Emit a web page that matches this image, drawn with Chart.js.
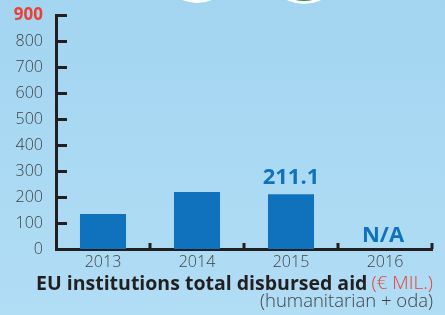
<!DOCTYPE html>
<html>
<head>
<meta charset="utf-8">
<script src="https://cdn.jsdelivr.net/npm/chart.js@4.4.1/dist/chart.umd.min.js"></script>
<style>
  html, body { margin: 0; padding: 0; }
  body { width: 445px; height: 315px; overflow: hidden;
         background: linear-gradient(#a3d5f1, #b1ddf5); }
  #wrap { position: relative; width: 445px; height: 315px; }
</style>
</head>
<body>
<div id="wrap"><canvas id="aidChart" width="445" height="315"></canvas></div>
<script>
  // data
  const years = ['2013', '2014', '2015', '2016'];
  const disbursed = [135, 219, 211.1, null];
  const valueLabels = ['', '', '211.1', 'N/A'];
  const yTicks = [0, 100, 200, 300, 400, 500, 600, 700, 800, 900];

  const titleMain = 'EU institutions total disbursed aid';
  const titleUnit = '(€ MIL.)';
  const subtitle = '(humanitarian + oda)';

  const blue = '#1072bc';
  const red = '#ea4034';
  const ink = '#231f20';
  const grey = '#3f3f42';

  const isTop = ctx => !!(ctx && ctx.tick && ctx.tick.value === 900);

  // white / green discs cut off at the top edge
  const decoPlugin = {
    id: 'deco',
    beforeDraw(chart) {
      const c = chart.ctx;
      c.save();
      c.fillStyle = '#ffffff';
      c.beginPath(); c.arc(197, -36, 39, 0, Math.PI * 2); c.fill();
      c.beginPath(); c.arc(304, -35, 39, 0, Math.PI * 2); c.fill();
      c.fillStyle = '#1a9a48';
      c.beginPath(); c.arc(304, -37, 38, 0, Math.PI * 2); c.fill();
      c.restore();
    }
  };

  // inward ticks, value labels and the two-colour title
  const extrasPlugin = {
    id: 'extras',
    afterDraw(chart) {
      const c = chart.ctx;
      const x = chart.scales.x, y = chart.scales.y;
      const area = chart.chartArea;
      c.save();
      c.strokeStyle = ink;
      c.lineWidth = 3;
      // y ticks pointing right
      yTicks.forEach(v => {
        const py = Math.round(y.getPixelForValue(v)) + 0.5;
        c.beginPath(); c.moveTo(area.left, py); c.lineTo(area.left + 11, py); c.stroke();
      });
      // x ticks pointing up, between categories
      const step = x.getPixelForValue(1) - x.getPixelForValue(0);
      for (let i = 0; i < years.length; i++) {
        const px = x.getPixelForValue(i) + step / 2;
        c.beginPath(); c.moveTo(px, area.bottom); c.lineTo(px, area.bottom - 6); c.stroke();
      }
      // value labels
      c.fillStyle = blue;
      c.font = 'bold 22px "Open Sans"';
      c.textAlign = 'center';
      c.textBaseline = 'bottom';
      valueLabels.forEach((t, i) => {
        if (!t) return;
        const px = x.getPixelForValue(i);
        const v = disbursed[i] == null ? 0 : disbursed[i];
        const py = y.getPixelForValue(v) - (disbursed[i] == null ? 2 : 5);
        c.fillText(t, disbursed[i] == null ? px - 2 : px, py);
      });
      // title
      const right = area.right + 1;
      c.textBaseline = 'middle';
      c.textAlign = 'right';
      c.font = '300 19px "Open Sans"';
      c.fillStyle = red;
      const unitW = c.measureText(titleUnit).width;
      c.fillText(titleUnit, right, 284);
      c.font = 'bold 19.5px "Open Sans"';
      c.fillStyle = ink;
      c.fillText(titleMain, right - unitW - 4, 284);
      c.font = '300 18.5px "Open Sans"';
      c.fillStyle = grey;
      c.fillText(subtitle, right, 302);
      c.restore();
    }
  };

  new Chart(document.getElementById('aidChart'), {
    type: 'bar',
    data: {
      labels: years,
      datasets: [{
        data: disbursed,
        backgroundColor: blue,
        barPercentage: 0.49,
        categoryPercentage: 1
      }]
    },
    options: {
      responsive: false,
      animation: false,
      layout: { padding: { top: 13, right: 13, left: 0, bottom: 0 } },
      plugins: { legend: { display: false }, tooltip: { enabled: false } },
      scales: {
        x: {
          grid: { display: false, drawTicks: false },
          border: { display: true, color: ink, width: 3 },
          ticks: { color: grey, font: { family: 'Open Sans', size: 16, weight: '300' }, padding: 4 },
          afterFit: s => { s.height = 66; }
        },
        y: {
          min: 0, max: 900,
          grid: { display: false },
          border: { display: true, color: ink, width: 3 },
          afterBuildTicks: s => { s.ticks = yTicks.map(v => ({ value: v })); },
          ticks: {
            padding: 5,
            color: ctx => isTop(ctx) ? red : grey,
            font: ctx => isTop(ctx)
              ? { family: 'Open Sans', size: 17, weight: 'bold' }
              : { family: 'Open Sans', size: 16, weight: '300' }
          },
          afterFit: s => { s.width = 56; }
        }
      }
    },
    plugins: [decoPlugin, extrasPlugin]
  });
</script>
</body>
</html>
